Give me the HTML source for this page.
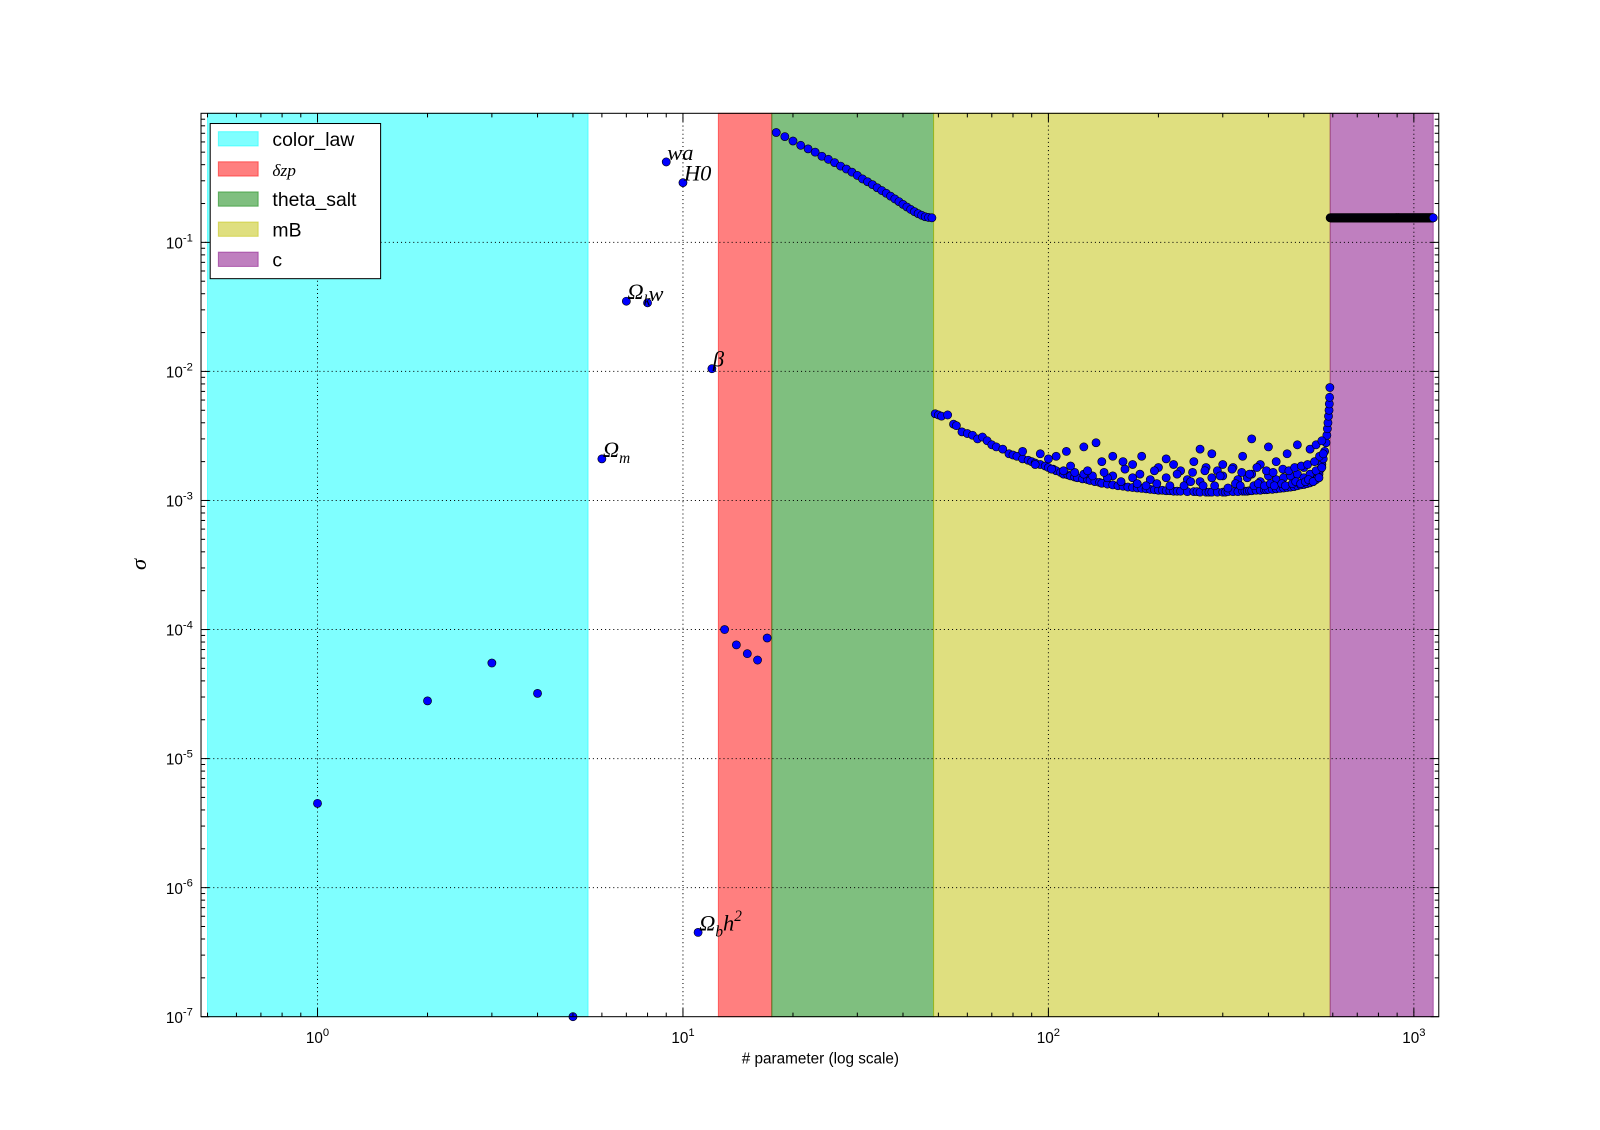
<!DOCTYPE html>
<html><head><meta charset="utf-8"><style>
body{margin:0;background:#fff}
svg{display:block}
text{font-family:"Liberation Sans",sans-serif}
.m{font-family:"Liberation Serif","DejaVu Serif",serif;font-style:italic}
</style></head><body>
<svg id="chart" width="1600" height="1130" viewBox="0 0 1568 1107" preserveAspectRatio="none" xmlns="http://www.w3.org/2000/svg">
<rect width="1568" height="1107" fill="#fff"/>
<g id="bands"></g><g id="grid"></g><g id="pts"></g><g id="ann"></g><g id="axes"></g><g id="legend"></g>
</svg>
<script>
const NS="http://www.w3.org/2000/svg";
const X0=197,X1=1410,Y0=111,Y1=996;
const xMin=0.48,xMax=1170,yMin=1e-7,yMax=1.0;
function sx(v){return X0+(Math.log10(v)-Math.log10(xMin))/(Math.log10(xMax)-Math.log10(xMin))*(X1-X0);}
function sy(v){return Y1-(Math.log10(v)-Math.log10(yMin))/(Math.log10(yMax)-Math.log10(yMin))*(Y1-Y0);}
function mk(t,a,p){const e=document.createElementNS(NS,t);for(const k in a)e.setAttribute(k,a[k]);p.appendChild(e);return e;}

const bandNames=["color_law","δzp","theta_salt","mB","c"];
const bandStart=[0.5,12.5,17.5,48.5,590];
const bandEnd=[5.5,17.5,48.5,590,1130];
const bandColors=["#00ffff","#ff0000","#008000","#bfbf00","#800080"];
const namedX=[1,2,3,4,5,6,7,8,9,10,11,12,13,14,15,16,17];
const namedY=[4.5e-6,2.8e-5,5.5e-5,3.2e-5,1e-7,2.1e-3,0.035,0.034,0.42,0.29,4.5e-7,0.0105,1.0e-4,7.6e-5,6.5e-5,5.8e-5,8.6e-5];
const labelX=[6,7,8,9,10,11,12];
const labelText=["Ω_m","Ω_k","w","wa","H0","Ω_b h^2","β"];
const thetaY=[0.71,0.66,0.61,0.565,0.53,0.5,0.465,0.44,0.415,0.39,0.37,0.35,0.33,0.31,0.295,0.28,0.265,0.252,0.24,0.228,0.217,0.207,0.197,0.188,0.18,0.173,0.167,0.162,0.158,0.156,0.155];
const mbX=[49,50,51,53,55,56,58,60,62,64,66,68,70,72,75,78,80,82,85,88,90,92,95,98,100,103,105,108,110,113,115,118,120,124,128,130,134,138,140,145,150,155,160,165,170,175,180,185,190,195,200,205,210,215,220,225,230,240,250,255,260,270,275,280,290,300,305,310,320,330,340,345,350,355,360,370,380,390,395,400,410,420,430,440,450,460,470,480,490,500,510,520,530,540,545,550,555,560,565,570,575,578,580,582,584,586,587,588,589,
 85,95,105,112,125,135,140,150,160,170,180,200,210,220,230,250,260,270,280,290,300,320,340,360,380,400,420,450,480,500,520,540,560,
 110,125,150,170,190,210,240,260,280,300,330,350,360,380,400,420,440,460,480,500,520,540,560,
 92,102,118,132,145,158,175,185,198,215,235,245,265,285,310,325,335,365,375,390,405,415,435,445,465,475,490,505,515,530,550,
 100,115,128,142,162,178,195,225,248,268,295,318,338,355,372,395,412,438,455,472,492,512,535,552,565];
const mbY=[4.7e-3,4.6e-3,4.5e-3,4.6e-3,3.9e-3,3.8e-3,3.4e-3,3.3e-3,3.2e-3,3.0e-3,3.1e-3,2.9e-3,2.7e-3,2.6e-3,2.5e-3,2.3e-3,2.25e-3,2.2e-3,2.1e-3,2.05e-3,2.0e-3,1.95e-3,1.9e-3,1.85e-3,1.8e-3,1.75e-3,1.7e-3,1.65e-3,1.6e-3,1.58e-3,1.55e-3,1.52e-3,1.5e-3,1.47e-3,1.45e-3,1.43e-3,1.4e-3,1.38e-3,1.36e-3,1.34e-3,1.32e-3,1.3e-3,1.29e-3,1.27e-3,1.26e-3,1.25e-3,1.24e-3,1.23e-3,1.22e-3,1.21e-3,1.2e-3,1.2e-3,1.19e-3,1.19e-3,1.18e-3,1.18e-3,1.18e-3,1.17e-3,1.17e-3,1.17e-3,1.16e-3,1.16e-3,1.16e-3,1.16e-3,1.16e-3,1.16e-3,1.16e-3,1.17e-3,1.17e-3,1.17e-3,1.18e-3,1.18e-3,1.18e-3,1.19e-3,1.19e-3,1.2e-3,1.2e-3,1.21e-3,1.21e-3,1.22e-3,1.22e-3,1.23e-3,1.24e-3,1.25e-3,1.26e-3,1.27e-3,1.28e-3,1.3e-3,1.32e-3,1.33e-3,1.35e-3,1.37e-3,1.4e-3,1.45e-3,1.5e-3,1.6e-3,1.75e-3,1.9e-3,2.1e-3,2.4e-3,2.8e-3,3.2e-3,3.6e-3,4.0e-3,4.5e-3,5.0e-3,5.6e-3,6.3e-3,7.5e-3,
 2.4e-3,2.3e-3,2.2e-3,2.4e-3,2.6e-3,2.8e-3,2.0e-3,2.2e-3,2.0e-3,1.9e-3,2.2e-3,1.8e-3,2.1e-3,1.9e-3,1.7e-3,2.0e-3,2.5e-3,1.8e-3,2.3e-3,1.7e-3,1.9e-3,1.8e-3,2.2e-3,3.0e-3,1.9e-3,2.6e-3,2.0e-3,2.3e-3,2.7e-3,1.8e-3,2.5e-3,2.7e-3,2.9e-3,
 1.7e-3,1.6e-3,1.55e-3,1.5e-3,1.45e-3,1.5e-3,1.45e-3,1.4e-3,1.5e-3,1.55e-3,1.45e-3,1.5e-3,1.6e-3,1.4e-3,1.55e-3,1.45e-3,1.5e-3,1.55e-3,1.6e-3,1.5e-3,1.6e-3,1.7e-3,1.8e-3,
 1.9e-3,1.75e-3,1.65e-3,1.55e-3,1.5e-3,1.4e-3,1.35e-3,1.3e-3,1.35e-3,1.3e-3,1.3e-3,1.4e-3,1.3e-3,1.3e-3,1.25e-3,1.35e-3,1.3e-3,1.3e-3,1.35e-3,1.3e-3,1.35e-3,1.3e-3,1.35e-3,1.3e-3,1.35e-3,1.4e-3,1.35e-3,1.4e-3,1.45e-3,1.4e-3,1.5e-3,
 2.1e-3,1.85e-3,1.7e-3,1.65e-3,1.75e-3,1.6e-3,1.7e-3,1.6e-3,1.65e-3,1.7e-3,1.55e-3,1.75e-3,1.65e-3,1.6e-3,1.8e-3,1.7e-3,1.65e-3,1.75e-3,1.7e-3,1.8e-3,1.85e-3,1.9e-3,2.0e-3,2.2e-3,2.3e-3];
const cStart=590,cEnd=1130,cValue=0.155;

const bands=document.getElementById('bands');
bandStart.forEach((s,i)=>{
  const r=mk('rect',{x:sx(s),y:Y0,width:sx(bandEnd[i])-sx(s),height:Y1-Y0,fill:bandColors[i],'fill-opacity':0.5,stroke:bandColors[i],'stroke-opacity':0.5},bands);
  
  
});
const grid=document.getElementById('grid'),axes=document.getElementById('axes');
const xTicks=[1,10,100,1000],xLab=["0","1","2","3"];
xTicks.forEach((t,i)=>{
  const x=sx(t);
  const l=mk('line',{x1:x,x2:x,y1:Y0,y2:Y1,stroke:'#000','stroke-dasharray':'1,3','stroke-width':1},grid);
  
  mk('line',{x1:x,x2:x,y1:Y1,y2:Y1-8,stroke:'#000'},axes);mk('line',{x1:x,x2:x,y1:Y0,y2:Y0+8,stroke:'#000'},axes);
  const tx=mk('text',{x:x,y:Y1+26,'font-size':15,'text-anchor':'middle'},axes);
  tx.innerHTML='10<tspan dy="-7" font-size="11">'+xLab[i]+'</tspan>';
  
});
for(let d=-1;d<=3;d++)for(let m=2;m<=9;m++){const v=m*Math.pow(10,d);if(v<xMin||v>xMax)continue;const x=sx(v);
  mk('line',{x1:x,x2:x,y1:Y1,y2:Y1-4,stroke:'#000'},axes);mk('line',{x1:x,x2:x,y1:Y0,y2:Y0+4,stroke:'#000'},axes);}
const yExp=[-7,-6,-5,-4,-3,-2,-1];
yExp.forEach(e=>{
  const y=sy(Math.pow(10,e));
  if(e>-7){const l=mk('line',{x1:X0,x2:X1,y1:y,y2:y,stroke:'#000','stroke-dasharray':'1,3'},grid);
  }
  mk('line',{x1:X0,x2:X0+8,y1:y,y2:y,stroke:'#000'},axes);mk('line',{x1:X1,x2:X1-8,y1:y,y2:y,stroke:'#000'},axes);
  const tx=mk('text',{x:X0-8,y:y+6,'font-size':15,'text-anchor':'end'},axes);
  tx.innerHTML='10<tspan dy="-7" font-size="11">'+e+'</tspan>';
  
});
for(let d=-7;d<=-1;d++)for(let m=2;m<=9;m++){const v=m*Math.pow(10,d);if(v>yMax)continue;const y=sy(v);
  mk('line',{x1:X0,x2:X0+4,y1:y,y2:y,stroke:'#000'},axes);mk('line',{x1:X1,x2:X1-4,y1:y,y2:y,stroke:'#000'},axes);}
const fr=mk('rect',{x:X0,y:Y0,width:X1-X0,height:Y1-Y0,fill:'none',stroke:'#000'},axes);

let t=mk('text',{x:804,y:1042,'font-size':15,'text-anchor':'middle'},axes);t.textContent='# parameter (log scale)';

t=mk('text',{x:0,y:0,'font-size':22,'text-anchor':'middle',class:'m',transform:'translate(143,553) rotate(-90)'},axes);t.textContent='σ';


const pts=document.getElementById('pts');
function dot(x,y,name){const c=mk('circle',{cx:sx(x),cy:sy(y),r:4,fill:'#0000ff',stroke:'#000','stroke-width':0.6},pts);
  }
for(let i=cStart;i<=cEnd;i++)dot(i,cValue,'point-c');
namedX.forEach((x,i)=>dot(x,namedY[i],'point-param'));
thetaY.forEach((y,i)=>dot(18+i,y,'point-theta-salt'));
mbX.forEach((x,i)=>dot(x,mbY[i],'point-mb'));

const ann=document.getElementById('ann');
const labelHTML={"Ω_m":'Ω<tspan dy="6" font-size="15">m</tspan>',"Ω_k":'Ω<tspan dy="6" font-size="15">k</tspan>',"w":'w',"wa":'wa',"H0":'H0',"Ω_b h^2":'Ω<tspan dy="6" font-size="15">b</tspan><tspan dy="-6">h</tspan><tspan dy="-9" font-size="15">2</tspan>',"β":'β'};
labelX.forEach((x,i)=>{const y=namedY[x-1];
  const e=mk('text',{x:sx(x)+1,y:sy(y)-2,'font-size':22,class:'m'},ann);e.innerHTML=labelHTML[labelText[i]];
  });

const lg=document.getElementById('legend');
const box=mk('rect',{x:206,y:121,width:167,height:152,fill:'#fff',stroke:'#000'},lg);

bandNames.forEach((n,i)=>{const y=136+i*29.5;
  mk('rect',{x:214,y:y-7,width:39,height:14,fill:bandColors[i],'fill-opacity':0.5,stroke:bandColors[i],'stroke-opacity':0.5},lg);
  const e=mk('text',{x:267,y:y+7,'font-size':19},lg);
  if(n==='δzp'){e.setAttribute('class','m');e.setAttribute('font-size','17');}
  e.textContent=n;
  });
</script>
</body></html>
